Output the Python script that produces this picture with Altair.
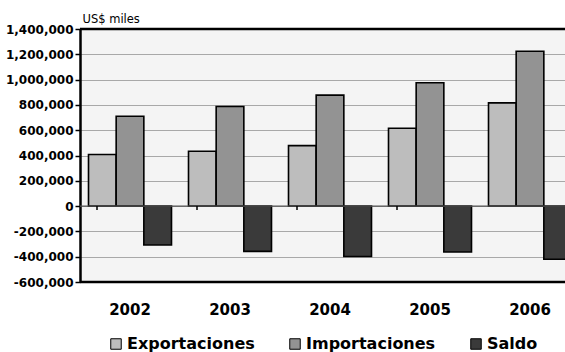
import altair as alt
import pandas as pd

years = ["2002", "2003", "2004", "2005", "2006"]
series = ["Exportaciones", "Importaciones", "Saldo"]
exportaciones = [408000, 434000, 478000, 616000, 816000]
importaciones = [710000, 787000, 877000, 975000, 1224000]
saldo = [-308000, -358000, -399000, -363000, -420000]
y_ticks = [-600000, -400000, -200000, 0, 200000, 400000, 600000, 800000, 1000000, 1200000, 1400000]
colors = ["#bdbdbd", "#939393", "#3a3a3a"]

rows = []
for i, yr in enumerate(years):
    for s, vals in zip(series, [exportaciones, importaciones, saldo]):
        rows.append({"Año": yr, "Serie": s, "Valor": vals[i]})
df = pd.DataFrame(rows)
sep_df = pd.DataFrame({"Año": years[:-1]})

x_scale = alt.Scale(domain=years, paddingInner=0.17, paddingOuter=0.085, range=[0, 500])
y_scale = alt.Scale(domain=[-600000, 1400000], nice=False)

x_axis = alt.Axis(title=None, labelAngle=0, domain=False, ticks=False,
                  labelFont="DejaVu Sans", labelFontWeight="bold",
                  labelFontSize=15, labelColor="black", labelPadding=20)
y_axis = alt.Axis(values=y_ticks, format=",.0f", title="US$ miles", labelOverlap=False,
                  labelExpr="replace(datum.label, '\u2212', '-')",
                  titleAngle=0, titleAlign="left", titleBaseline="alphabetic",
                  titleX=2, titleY=-7, titleFont="DejaVu Sans",
                  titleFontWeight="normal", titleFontSize=11.5, titleColor="black",
                  labelFont="DejaVu Sans", labelFontWeight="bold", labelFontSize=12,
                  labelColor="black", labelPadding=2, tickSize=5, tickColor="black",
                  tickWidth=1.5, domainColor="black", domainWidth=2.5,
                  grid=True, gridColor="#a8a8a8", gridWidth=1)

bars = alt.Chart(df).mark_bar(stroke="black", strokeWidth=1.6).encode(
    x=alt.X("Año:N", scale=x_scale, sort=years, axis=x_axis),
    xOffset=alt.XOffset("Serie:N", sort=series, scale=alt.Scale(paddingInner=0, paddingOuter=0)),
    y=alt.Y("Valor:Q", scale=y_scale, axis=y_axis),
    color=alt.Color("Serie:N", sort=series, scale=alt.Scale(domain=series, range=colors),
                    legend=alt.Legend(title=None, orient="none", direction="horizontal",
                                      legendX=28, legendY=307, symbolType="square",
                                      symbolSize=110, symbolStrokeColor="black",
                                      symbolStrokeWidth=1, labelFont="DejaVu Sans",
                                      labelFontWeight="bold", labelFontSize=16,
                                      labelColor="black", columnPadding=32, labelOffset=3)),
)

zero = alt.Chart(pd.DataFrame({"Valor": [0]})).mark_rule(color="#555555", strokeWidth=1.2).encode(
    y=alt.Y("Valor:Q", scale=y_scale, axis=y_axis)
)

frame = alt.Chart(pd.DataFrame({"Valor": [-600000, 1400000]})).mark_rule(
    color="black", strokeWidth=2.5
).encode(
    y=alt.Y("Valor:Q", scale=y_scale, axis=y_axis)
)

seps = alt.Chart(sep_df).mark_rule(color="black", strokeWidth=1.5).encode(
    x=alt.X("Año:N", scale=x_scale, sort=years, bandPosition=1, axis=x_axis),
    xOffset=alt.value(8.5),
    y=alt.datum(0, scale=y_scale, axis=y_axis),
    y2=alt.datum(-30000),
)

chart = alt.layer(bars, zero, seps, frame).properties(
    width=485, height=253,
    autosize=alt.AutoSizeParams(type="none"),
    padding={"left": 80, "top": 29, "right": 0, "bottom": 70},
    background="white",
).configure_view(
    stroke=None, fill="#f4f4f4"
)

chart.save("out.html", embed_options={"renderer": "svg", "actions": False})
